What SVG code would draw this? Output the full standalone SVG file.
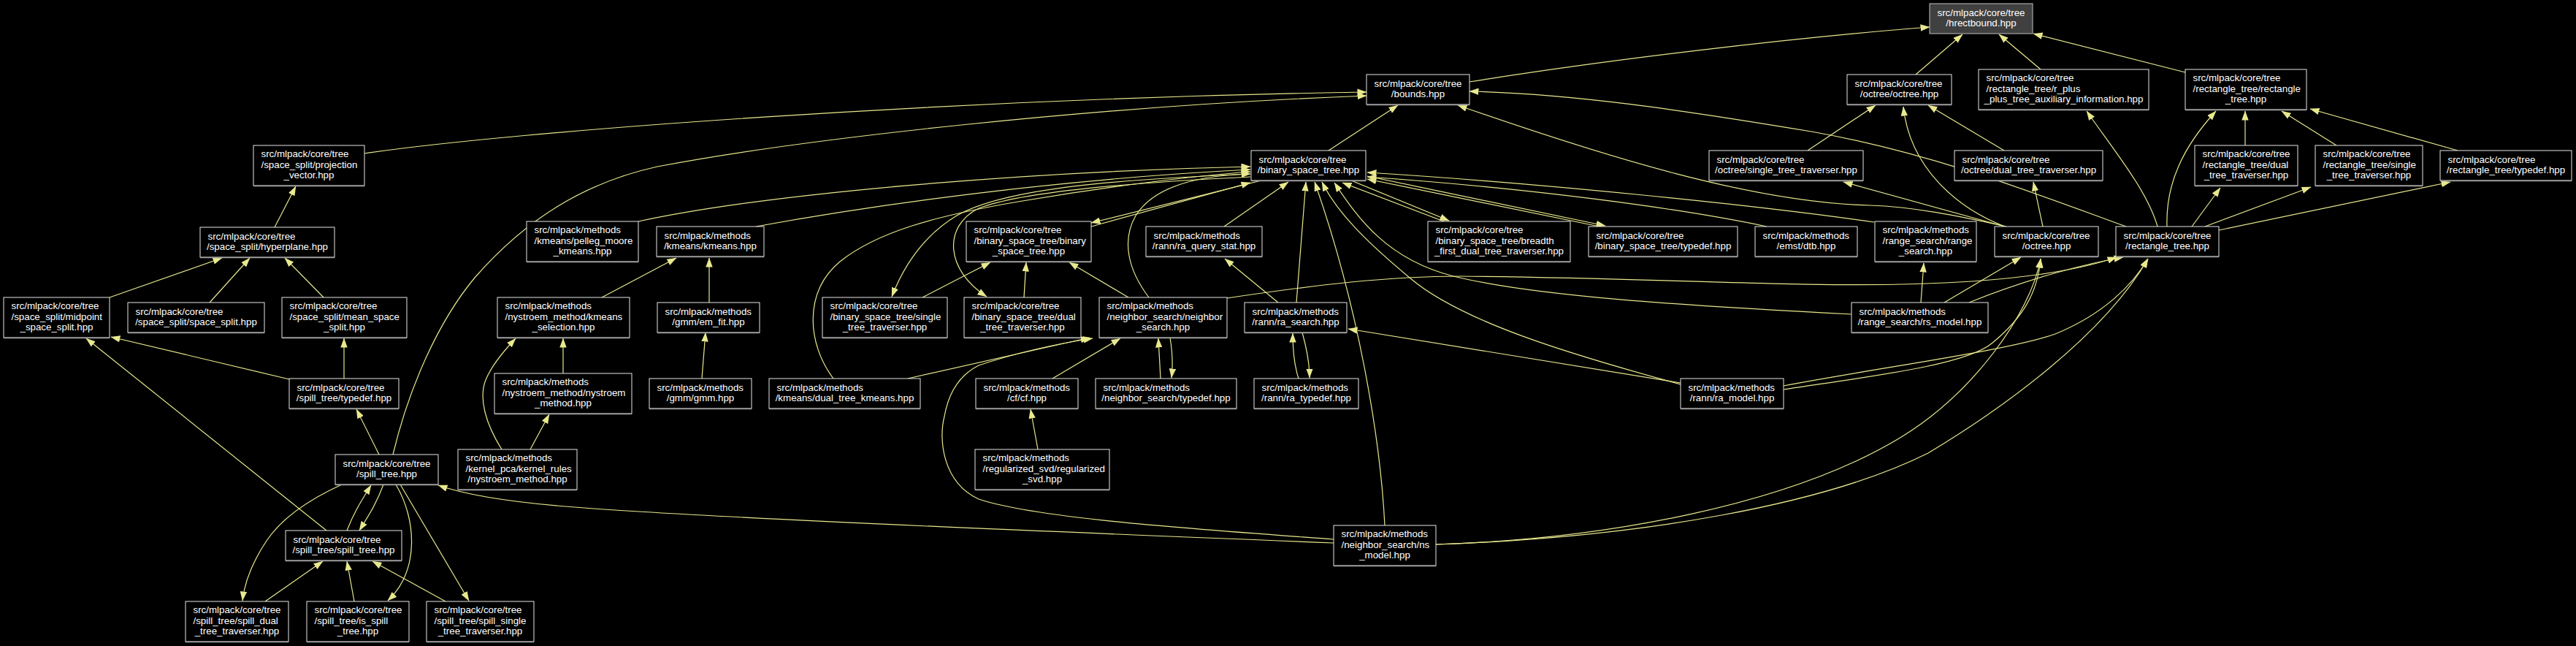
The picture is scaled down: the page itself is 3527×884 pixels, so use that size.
<svg xmlns="http://www.w3.org/2000/svg" width="3527" height="884" viewBox="0 0 3527 884">
<style>
.n rect{fill:#000;stroke:#e6e6e6;stroke-width:1}
.n line{stroke:#9a9a9a;stroke-width:1.5}
#hrect rect{fill:#404040;stroke:#bfbfbf}
text{font-family:"Liberation Sans",Arial,Helvetica,sans-serif;font-size:13.33px;fill:#fff}
.m{text-anchor:middle}
.e path{fill:none;stroke:#e8e88e;stroke-width:1.2;marker-end:url(#a)}
</style>
<defs>
<marker id="a" markerUnits="userSpaceOnUse" markerWidth="13" markerHeight="9.4" viewBox="0 0 13 9.4" refX="12.5" refY="4.7" orient="auto"><path d="M0,0L13,4.7L0,9.4z" fill="#e8e88e"/></marker>
</defs>
<rect width="3527" height="884" fill="#000"/>
<g class="e" id="edges">
<path d="M2012,112 C2200,82 2450,52 2642,37"/>
<path d="M2623,102 L2687,47"/>
<path d="M2794,95 L2737,47"/>
<path d="M2992,99 L2784,46"/>
<path d="M1819,206 L1914,144"/>
<path d="M499,210 C700,180 1300,135 1871,126"/>
<path d="M538,622 C560,530 600,440 650,380 C720,300 800,250 900,228 C1100,190 1500,145 1871,131"/>
<path d="M2911,310 C2800,270 2650,210 2480,180 C2300,150 2150,128 2012,125"/>
<path d="M2747,310 C2680,295 2620,283 2560,281 C2400,277 2200,215 1996,144"/>
<path d="M2475,206 L2568,144"/>
<path d="M2745,310 C2680,285 2615,230 2606,146"/>
<path d="M2744,206 L2640,144"/>
<path d="M2745,310 L2524,249"/>
<path d="M2797,310 L2784,249"/>
<path d="M2954,310 C2940,260 2890,200 2857,152"/>
<path d="M2967,310 C2965,250 2990,200 3034,152"/>
<path d="M3074,199 L3074,152"/>
<path d="M3199,199 L3124,152"/>
<path d="M3365,206 L3163,149"/>
<path d="M3001,310 L3040,257"/>
<path d="M3019,310 L3164,256"/>
<path d="M3038,315 L3355,249"/>
<path d="M874,303 C1050,265 1400,235 1712,228"/>
<path d="M1035,310 C1200,280 1450,245 1712,232"/>
<path d="M1141,518 C1105,470 1100,400 1150,358 C1200,318 1280,295 1400,275 C1500,258 1620,242 1712,235"/>
<path d="M1573,407 C1545,370 1535,330 1555,295 C1580,255 1640,240 1712,238"/>
<path d="M1494,310 L1712,250"/>
<path d="M1727,247 L1494,305"/>
<path d="M1676,310 L1764,249"/>
<path d="M1775,414 L1788,249"/>
<path d="M1896,719 C1890,600 1860,420 1800,249"/>
<path d="M2301,526 C2150,485 2000,440 1930,380 C1870,330 1830,290 1810,249"/>
<path d="M2535,430 C2300,418 2100,405 1990,378 C1900,355 1860,300 1827,250"/>
<path d="M1850,247 L1984,302"/>
<path d="M1977,303 L1838,250"/>
<path d="M1872,241 L2198,309"/>
<path d="M2190,310 L1872,245"/>
<path d="M2419,310 C2300,285 2100,258 1872,242"/>
<path d="M2566,304 C2400,280 2100,250 1872,236"/>
<path d="M1263,407 L1356,359"/>
<path d="M1402,407 L1405,359"/>
<path d="M1545,407 L1464,359"/>
<path d="M1712,238 C1550,245 1380,255 1310,295 C1260,325 1235,370 1221,406"/>
<path d="M1712,242 C1550,250 1400,262 1340,285 C1290,310 1295,370 1351,406"/>
<path d="M1680,408 C1800,390 1900,378 2000,378 C2300,380 2500,398 2700,385 C2800,378 2860,365 2898,352"/>
<path d="M1589,518 L1586,463"/>
<path d="M1602,462 C1605,480 1606,500 1604,517"/>
<path d="M1243,518 L1492,462"/>
<path d="M1441,518 L1534,463"/>
<path d="M1826,738 C1650,725 1420,710 1340,683 C1290,660 1285,600 1293,570 C1300,530 1320,510 1340,500 C1400,480 1450,470 1496,463"/>
<path d="M1826,743 C1500,730 1000,710 800,695 C700,688 640,678 600,664"/>
<path d="M1750,414 L1677,354"/>
<path d="M1778,518 C1772,500 1770,480 1770,456"/>
<path d="M1783,455 C1790,480 1793,500 1793,517"/>
<path d="M2301,524 L1846,450"/>
<path d="M2630,414 L2634,360"/>
<path d="M2662,414 L2767,352"/>
<path d="M2696,414 C2780,380 2860,360 2907,352"/>
<path d="M2442,533 C2560,515 2690,500 2727,470 C2770,435 2790,400 2794,354"/>
<path d="M2442,528 C2560,505 2750,480 2814,457 C2880,430 2920,390 2941,354"/>
<path d="M1966,745 C2200,738 2450,690 2600,600 C2700,540 2780,430 2794,354"/>
<path d="M1966,745 C2250,735 2500,690 2640,620 C2740,560 2880,460 2941,354"/>
<path d="M376,311 L405,255"/>
<path d="M150,407 L304,353"/>
<path d="M287,414 L342,353"/>
<path d="M443,407 L390,353"/>
<path d="M396,519 L152,461"/>
<path d="M471,518 L471,463"/>
<path d="M447,726 L118,463"/>
<path d="M519,622 L488,560"/>
<path d="M824,407 L926,353"/>
<path d="M771,511 L771,463"/>
<path d="M687,615 C665,580 655,545 665,520 C673,500 690,480 706,463"/>
<path d="M726,615 L752,567"/>
<path d="M971,414 L971,353"/>
<path d="M961,518 L966,455"/>
<path d="M1421,615 L1411,560"/>
<path d="M475,726 C485,700 495,685 508,664"/>
<path d="M525,663 C515,690 505,705 492,726"/>
<path d="M468,663 C420,685 385,710 365,740 C345,770 335,795 332,822"/>
<path d="M363,823 L442,768"/>
<path d="M542,663 C570,710 575,780 531,822"/>
<path d="M485,823 L475,768"/>
<path d="M548,663 L642,822"/>
<path d="M610,823 L510,768"/>
</g>
<g class="n" id="hrect"><rect x="2642" y="5" width="141" height="41"/><text class="m" x="2712.5" y="21.5">src/mlpack/core/tree</text><text class="m" x="2712.5" y="36">/hrectbound.hpp</text></g>
<g class="n" id="bounds"><rect x="1871" y="102" width="141" height="41"/><line x1="1871" y1="143.5" x2="2012" y2="143.5"/><text x="1881.5" y="118.5">src/mlpack/core/tree</text><text class="m" x="1941.5" y="133">/bounds.hpp</text></g>
<g class="n" id="octoct"><rect x="2529" y="102" width="143" height="41"/><line x1="2529" y1="143.5" x2="2672" y2="143.5"/><text x="2539.5" y="118.5">src/mlpack/core/tree</text><text class="m" x="2600.5" y="133">/octree/octree.hpp</text></g>
<g class="n" id="rplus"><rect x="2709" y="95" width="233" height="55"/><line x1="2709" y1="150.5" x2="2942" y2="150.5"/><text x="2719.5" y="111">src/mlpack/core/tree</text><text x="2719.5" y="125.5">/rectangle_tree/r_plus</text><text class="m" x="2825.5" y="140">_plus_tree_auxiliary_information.hpp</text></g>
<g class="n" id="rtrt"><rect x="2992" y="95" width="166" height="55"/><line x1="2992" y1="150.5" x2="3158" y2="150.5"/><text x="3002.5" y="111">src/mlpack/core/tree</text><text x="3002.5" y="125.5">/rectangle_tree/rectangle</text><text class="m" x="3075" y="140">_tree.hpp</text></g>
<g class="n" id="projvec"><rect x="347" y="199" width="152" height="55"/><line x1="347" y1="254.5" x2="499" y2="254.5"/><text x="357.5" y="215">src/mlpack/core/tree</text><text x="357.5" y="229.5">/space_split/projection</text><text class="m" x="423" y="244">_vector.hpp</text></g>
<g class="n" id="bst"><rect x="1713" y="206" width="157" height="41"/><line x1="1713" y1="247.5" x2="1870" y2="247.5"/><text x="1723.5" y="222.5">src/mlpack/core/tree</text><text class="m" x="1791.5" y="237">/binary_space_tree.hpp</text></g>
<g class="n" id="octsingle"><rect x="2340" y="206" width="211" height="41"/><line x1="2340" y1="247.5" x2="2551" y2="247.5"/><text x="2350.5" y="222.5">src/mlpack/core/tree</text><text class="m" x="2445.5" y="237">/octree/single_tree_traverser.hpp</text></g>
<g class="n" id="octdual"><rect x="2676" y="206" width="203" height="41"/><line x1="2676" y1="247.5" x2="2879" y2="247.5"/><text x="2686.5" y="222.5">src/mlpack/core/tree</text><text class="m" x="2777.5" y="237">/octree/dual_tree_traverser.hpp</text></g>
<g class="n" id="rtdual"><rect x="3005" y="199" width="141" height="55"/><line x1="3005" y1="254.5" x2="3146" y2="254.5"/><text x="3015.5" y="215">src/mlpack/core/tree</text><text x="3015.5" y="229.5">/rectangle_tree/dual</text><text class="m" x="3075.5" y="244">_tree_traverser.hpp</text></g>
<g class="n" id="rtsingle"><rect x="3170" y="199" width="147" height="55"/><line x1="3170" y1="254.5" x2="3317" y2="254.5"/><text x="3180.5" y="215">src/mlpack/core/tree</text><text x="3180.5" y="229.5">/rectangle_tree/single</text><text class="m" x="3243.5" y="244">_tree_traverser.hpp</text></g>
<g class="n" id="rttypedef"><rect x="3341" y="206" width="180" height="41"/><line x1="3341" y1="247.5" x2="3521" y2="247.5"/><text x="3351.5" y="222.5">src/mlpack/core/tree</text><text class="m" x="3431" y="237">/rectangle_tree/typedef.hpp</text></g>
<g class="n" id="hyperplane"><rect x="274" y="311" width="184" height="41"/><line x1="274" y1="352.5" x2="458" y2="352.5"/><text x="284.5" y="327.5">src/mlpack/core/tree</text><text class="m" x="366" y="342">/space_split/hyperplane.hpp</text></g>
<g class="n" id="pelleg"><rect x="721" y="303" width="153" height="55"/><line x1="721" y1="358.5" x2="874" y2="358.5"/><text x="731.5" y="319">src/mlpack/methods</text><text x="731.5" y="333.5">/kmeans/pelleg_moore</text><text class="m" x="797.5" y="348">_kmeans.hpp</text></g>
<g class="n" id="kmeans"><rect x="899" y="310" width="147" height="41"/><line x1="899" y1="351.5" x2="1046" y2="351.5"/><text x="909.5" y="326.5">src/mlpack/methods</text><text class="m" x="972.5" y="341">/kmeans/kmeans.hpp</text></g>
<g class="n" id="bstbst"><rect x="1323" y="303" width="171" height="55"/><line x1="1323" y1="358.5" x2="1494" y2="358.5"/><text x="1333.5" y="319">src/mlpack/core/tree</text><text x="1333.5" y="333.5">/binary_space_tree/binary</text><text class="m" x="1408.5" y="348">_space_tree.hpp</text></g>
<g class="n" id="raquery"><rect x="1569" y="310" width="159" height="41"/><line x1="1569" y1="351.5" x2="1728" y2="351.5"/><text x="1579.5" y="326.5">src/mlpack/methods</text><text class="m" x="1648.5" y="341">/rann/ra_query_stat.hpp</text></g>
<g class="n" id="breadth"><rect x="1955" y="303" width="195" height="55"/><line x1="1955" y1="358.5" x2="2150" y2="358.5"/><text x="1965.5" y="319">src/mlpack/core/tree</text><text x="1965.5" y="333.5">/binary_space_tree/breadth</text><text class="m" x="2052.5" y="348">_first_dual_tree_traverser.hpp</text></g>
<g class="n" id="bsttypedef"><rect x="2175" y="310" width="204" height="41"/><line x1="2175" y1="351.5" x2="2379" y2="351.5"/><text x="2185.5" y="326.5">src/mlpack/core/tree</text><text class="m" x="2277" y="341">/binary_space_tree/typedef.hpp</text></g>
<g class="n" id="dtb"><rect x="2403" y="310" width="140" height="41"/><line x1="2403" y1="351.5" x2="2543" y2="351.5"/><text x="2413.5" y="326.5">src/mlpack/methods</text><text class="m" x="2473" y="341">/emst/dtb.hpp</text></g>
<g class="n" id="rangesearch"><rect x="2567" y="303" width="139" height="55"/><line x1="2567" y1="358.5" x2="2706" y2="358.5"/><text x="2577.5" y="319">src/mlpack/methods</text><text x="2577.5" y="333.5">/range_search/range</text><text class="m" x="2636.5" y="348">_search.hpp</text></g>
<g class="n" id="octree"><rect x="2731" y="310" width="142" height="41"/><line x1="2731" y1="351.5" x2="2873" y2="351.5"/><text x="2741.5" y="326.5">src/mlpack/core/tree</text><text class="m" x="2802" y="341">/octree.hpp</text></g>
<g class="n" id="recttree"><rect x="2897" y="310" width="141" height="41"/><line x1="2897" y1="351.5" x2="3038" y2="351.5"/><text x="2907.5" y="326.5">src/mlpack/core/tree</text><text class="m" x="2967.5" y="341">/rectangle_tree.hpp</text></g>
<g class="n" id="midpoint"><rect x="5" y="407" width="145" height="55"/><line x1="5" y1="462.5" x2="150" y2="462.5"/><text x="15.5" y="423">src/mlpack/core/tree</text><text x="15.5" y="437.5">/space_split/midpoint</text><text class="m" x="77.5" y="452">_space_split.hpp</text></g>
<g class="n" id="spacesplit"><rect x="175" y="414" width="187" height="41"/><line x1="175" y1="455.5" x2="362" y2="455.5"/><text x="185.5" y="430.5">src/mlpack/core/tree</text><text class="m" x="268.5" y="445">/space_split/space_split.hpp</text></g>
<g class="n" id="meansplit"><rect x="386" y="407" width="171" height="55"/><line x1="386" y1="462.5" x2="557" y2="462.5"/><text x="396.5" y="423">src/mlpack/core/tree</text><text x="396.5" y="437.5">/space_split/mean_space</text><text class="m" x="471.5" y="452">_split.hpp</text></g>
<g class="n" id="kmsel"><rect x="681" y="407" width="181" height="55"/><line x1="681" y1="462.5" x2="862" y2="462.5"/><text x="691.5" y="423">src/mlpack/methods</text><text x="691.5" y="437.5">/nystroem_method/kmeans</text><text class="m" x="771.5" y="452">_selection.hpp</text></g>
<g class="n" id="emfit"><rect x="900" y="414" width="140" height="41"/><line x1="900" y1="455.5" x2="1040" y2="455.5"/><text x="910.5" y="430.5">src/mlpack/methods</text><text class="m" x="970" y="445">/gmm/em_fit.hpp</text></g>
<g class="n" id="bstsingle"><rect x="1126" y="407" width="171" height="55"/><line x1="1126" y1="462.5" x2="1297" y2="462.5"/><text x="1136.5" y="423">src/mlpack/core/tree</text><text x="1136.5" y="437.5">/binary_space_tree/single</text><text class="m" x="1211.5" y="452">_tree_traverser.hpp</text></g>
<g class="n" id="bstdual"><rect x="1320" y="407" width="160" height="55"/><line x1="1320" y1="462.5" x2="1480" y2="462.5"/><text x="1330.5" y="423">src/mlpack/core/tree</text><text x="1330.5" y="437.5">/binary_space_tree/dual</text><text class="m" x="1400" y="452">_tree_traverser.hpp</text></g>
<g class="n" id="nsearch"><rect x="1505" y="407" width="175" height="55"/><line x1="1505" y1="462.5" x2="1680" y2="462.5"/><text x="1515.5" y="423">src/mlpack/methods</text><text x="1515.5" y="437.5">/neighbor_search/neighbor</text><text class="m" x="1592.5" y="452">_search.hpp</text></g>
<g class="n" id="rasearch"><rect x="1704" y="414" width="140" height="41"/><line x1="1704" y1="455.5" x2="1844" y2="455.5"/><text x="1714.5" y="430.5">src/mlpack/methods</text><text class="m" x="1774" y="445">/rann/ra_search.hpp</text></g>
<g class="n" id="rsmodel"><rect x="2535" y="414" width="187" height="41"/><line x1="2535" y1="455.5" x2="2722" y2="455.5"/><text x="2545.5" y="430.5">src/mlpack/methods</text><text class="m" x="2628.5" y="445">/range_search/rs_model.hpp</text></g>
<g class="n" id="spilltypedef"><rect x="396" y="518" width="150" height="41"/><line x1="396" y1="559.5" x2="546" y2="559.5"/><text x="406.5" y="534.5">src/mlpack/core/tree</text><text class="m" x="471" y="549">/spill_tree/typedef.hpp</text></g>
<g class="n" id="nystroem"><rect x="677" y="511" width="188" height="55"/><line x1="677" y1="566.5" x2="865" y2="566.5"/><text x="687.5" y="527">src/mlpack/methods</text><text x="687.5" y="541.5">/nystroem_method/nystroem</text><text class="m" x="771" y="556">_method.hpp</text></g>
<g class="n" id="gmm"><rect x="889" y="518" width="140" height="41"/><line x1="889" y1="559.5" x2="1029" y2="559.5"/><text x="899.5" y="534.5">src/mlpack/methods</text><text class="m" x="959" y="549">/gmm/gmm.hpp</text></g>
<g class="n" id="dtkmeans"><rect x="1053" y="518" width="207" height="41"/><line x1="1053" y1="559.5" x2="1260" y2="559.5"/><text x="1063.5" y="534.5">src/mlpack/methods</text><text class="m" x="1156.5" y="549">/kmeans/dual_tree_kmeans.hpp</text></g>
<g class="n" id="cf"><rect x="1336" y="518" width="140" height="41"/><line x1="1336" y1="559.5" x2="1476" y2="559.5"/><text x="1346.5" y="534.5">src/mlpack/methods</text><text class="m" x="1406" y="549">/cf/cf.hpp</text></g>
<g class="n" id="nstypedef"><rect x="1500" y="518" width="193" height="41"/><line x1="1500" y1="559.5" x2="1693" y2="559.5"/><text x="1510.5" y="534.5">src/mlpack/methods</text><text class="m" x="1596.5" y="549">/neighbor_search/typedef.hpp</text></g>
<g class="n" id="ratypedef"><rect x="1717" y="518" width="143" height="41"/><line x1="1717" y1="559.5" x2="1860" y2="559.5"/><text x="1727.5" y="534.5">src/mlpack/methods</text><text class="m" x="1788.5" y="549">/rann/ra_typedef.hpp</text></g>
<g class="n" id="ramodel"><rect x="2301" y="518" width="141" height="41"/><line x1="2301" y1="559.5" x2="2442" y2="559.5"/><text x="2311.5" y="534.5">src/mlpack/methods</text><text class="m" x="2371.5" y="549">/rann/ra_model.hpp</text></g>
<g class="n" id="spilltree"><rect x="459" y="622" width="141" height="41"/><line x1="459" y1="663.5" x2="600" y2="663.5"/><text x="469.5" y="638.5">src/mlpack/core/tree</text><text class="m" x="529.5" y="653">/spill_tree.hpp</text></g>
<g class="n" id="kernelrules"><rect x="627" y="615" width="163" height="55"/><line x1="627" y1="670.5" x2="790" y2="670.5"/><text x="637.5" y="631">src/mlpack/methods</text><text x="637.5" y="645.5">/kernel_pca/kernel_rules</text><text class="m" x="708.5" y="660">/nystroem_method.hpp</text></g>
<g class="n" id="regsvd"><rect x="1335" y="615" width="184" height="55"/><line x1="1335" y1="670.5" x2="1519" y2="670.5"/><text x="1345.5" y="631">src/mlpack/methods</text><text x="1345.5" y="645.5">/regularized_svd/regularized</text><text class="m" x="1427" y="660">_svd.hpp</text></g>
<g class="n" id="spillspill"><rect x="391" y="726" width="159" height="41"/><line x1="391" y1="767.5" x2="550" y2="767.5"/><text x="401.5" y="742.5">src/mlpack/core/tree</text><text class="m" x="470.5" y="757">/spill_tree/spill_tree.hpp</text></g>
<g class="n" id="nsmodel"><rect x="1826" y="719" width="140" height="55"/><line x1="1826" y1="774.5" x2="1966" y2="774.5"/><text x="1836.5" y="735">src/mlpack/methods</text><text x="1836.5" y="749.5">/neighbor_search/ns</text><text class="m" x="1896" y="764">_model.hpp</text></g>
<g class="n" id="spilldual"><rect x="254" y="823" width="141" height="55"/><line x1="254" y1="878.5" x2="395" y2="878.5"/><text x="264.5" y="839">src/mlpack/core/tree</text><text x="264.5" y="853.5">/spill_tree/spill_dual</text><text class="m" x="324.5" y="868">_tree_traverser.hpp</text></g>
<g class="n" id="isspill"><rect x="420" y="823" width="140" height="55"/><line x1="420" y1="878.5" x2="560" y2="878.5"/><text x="430.5" y="839">src/mlpack/core/tree</text><text x="430.5" y="853.5">/spill_tree/is_spill</text><text class="m" x="490" y="868">_tree.hpp</text></g>
<g class="n" id="spillsingle"><rect x="584" y="823" width="147" height="55"/><line x1="584" y1="878.5" x2="731" y2="878.5"/><text x="594.5" y="839">src/mlpack/core/tree</text><text x="594.5" y="853.5">/spill_tree/spill_single</text><text class="m" x="657.5" y="868">_tree_traverser.hpp</text></g>
</svg>
